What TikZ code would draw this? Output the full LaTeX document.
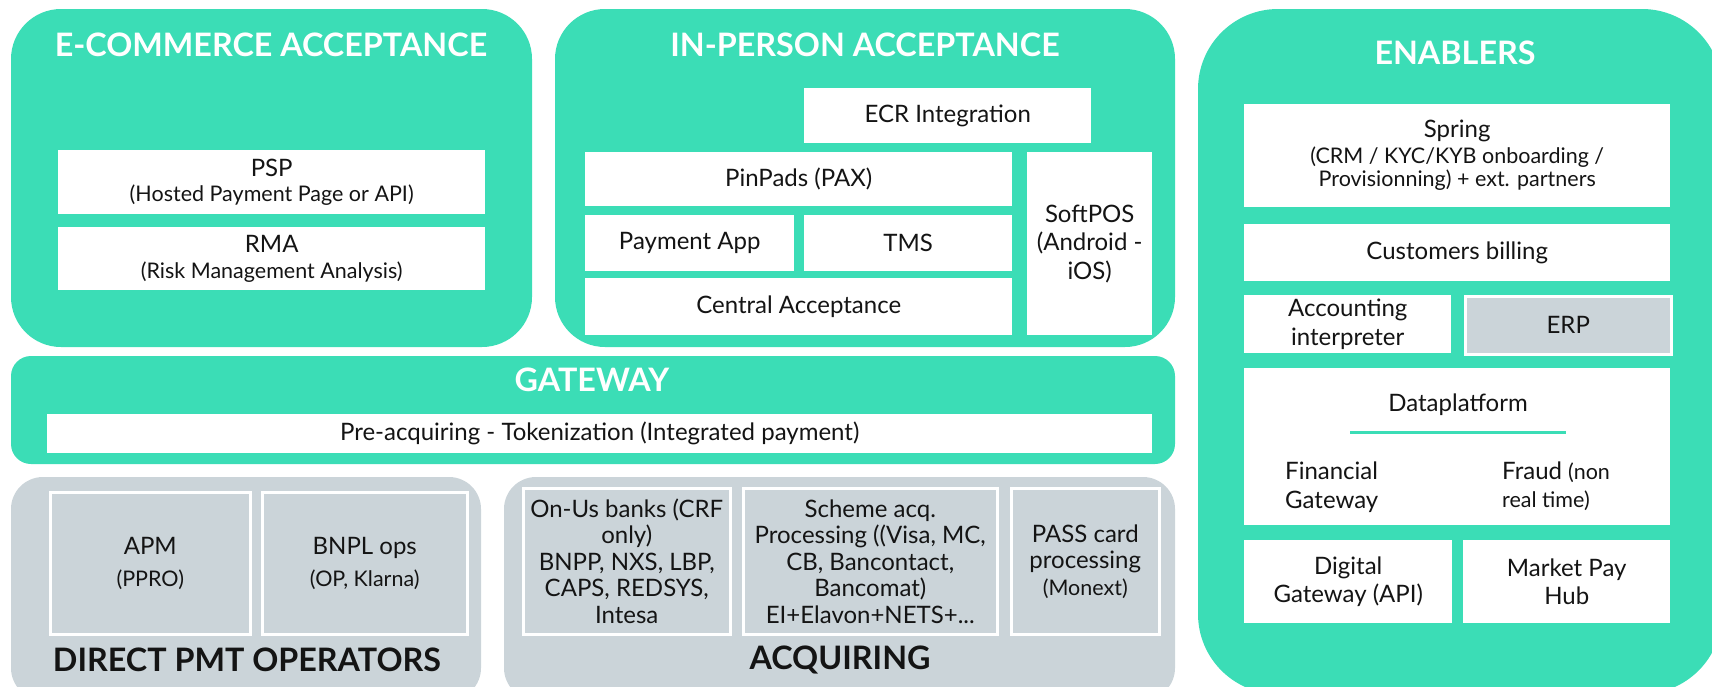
\documentclass[tikz,border=0pt]{standalone}
\usepackage{fontspec}
\setmainfont{Lato}
\definecolor{teal}{RGB}{59,221,182}
\definecolor{pgrey}{RGB}{203,212,217}
\definecolor{ink}{RGB}{20,20,20}
\newcommand\fmain{\fontsize{24}{28.5}\selectfont}
\newcommand\facq{\fontsize{24}{26.5}\selectfont}
\newcommand\fsub{\fontsize{21.5}{25}\selectfont}
\newcommand\ftitle{\fontsize{32.3}{38}\selectfont\bfseries}
\begin{document}
\begin{tikzpicture}[x=1pt,y=-1pt,
  panel/.style={fill=teal,draw=none,rounded corners=50pt},
  gpanel/.style={fill=pgrey,draw=none,rounded corners=32pt},
  wbox/.style={fill=white,draw=none,anchor=north west,inner sep=0pt,align=center,text=ink,font=\fmain},
  gbox/.style={fill=pgrey,draw=white,line width=2.5pt,anchor=north west,inner sep=0pt,align=center,text=ink,font=\fmain},
  wtitle/.style={text=white,font=\ftitle,inner sep=0pt},
  ktitle/.style={text=ink,font=\ftitle,inner sep=0pt},
  free/.style={text=ink,font=\fmain,inner sep=0pt}]
\useasboundingbox (0,0) rectangle (1712,686);
\clip (0,0) rectangle (1712,686);
% panels
\fill[panel] (11,9) rectangle (532,347);
\fill[panel] (555,9) rectangle (1175,347);
\fill[panel,rounded corners=20pt] (11,356) rectangle (1175,464);
\fill[gpanel] (11,477) rectangle (481,700);
\fill[gpanel] (504,477) rectangle (1175,700);
\fill[panel,rounded corners=80pt] (1198,9) rectangle (1722,694);
% titles
\node[wtitle] (tecom) at (271,45) {E-COMMERCE ACCEPTANCE};
\node[wtitle] (tinp) at (865,45) {IN-PERSON ACCEPTANCE};
\node[wtitle] (tgw) at (592,380) {GATEWAY};
\node[wtitle] (tena) at (1455,53) {ENABLERS};
\node[ktitle] (tdir) at (247,660) {DIRECT PMT OPERATORS};
\node[ktitle] (tacq) at (840,660) {ACQUIRING};
% e-commerce
\node[wbox,minimum width=427pt,minimum height=64pt] (psp) at (58,150) {PSP\\[-3pt]{\fsub (Hosted Payment Page or API)}};
\node[wbox,minimum width=427pt,minimum height=63pt] (rma) at (58,227) {RMA\\[-3pt]{\fsub (Risk Management Analysis)}};
% in-person
\node[wbox,minimum width=287pt,minimum height=55pt] (ecr) at (804,88) {ECR Integration};
\node[wbox,minimum width=427pt,minimum height=54pt] (pin) at (585,152) {PinPads (PAX)};
\node[wbox,minimum width=209pt,minimum height=56pt] (papp) at (585,215) {Payment App};
\node[wbox,minimum width=208pt,minimum height=56pt] (tms) at (804,215) {TMS};
\node[wbox,minimum width=427pt,minimum height=57pt] (central) at (585,278) {Central Acceptance};
\node[wbox,minimum width=125pt,minimum height=183pt] (softpos) at (1027,152) {SoftPOS\\(Android -\\iOS)};
% gateway
\node[wbox,minimum width=1105pt,minimum height=39pt] (preacq) at (47,414) {Pre-acquiring - Tokenization (Integrated payment)};
% direct pmt operators
\node[gbox,minimum width=200pt,minimum height=142pt] (apm) at (49,491) {APM\\[3pt]{\fsub (PPRO)}};
\node[gbox,minimum width=205pt,minimum height=142pt] (bnpl) at (261,491) {BNPL ops\\[3pt]{\fsub (OP, Klarna)}};
% acquiring
\node[gbox,font=\facq,minimum width=207pt,minimum height=146pt] (onus) at (522,487) {On-Us banks (CRF\\only)\\BNPP, NXS, LBP,\\CAPS, REDSYS,\\Intesa};
\node[gbox,font=\facq,minimum width=254pt,minimum height=146pt] (scheme) at (742,487) {Scheme acq.\\Processing ((Visa, MC,\\CB, Bancontact,\\Bancomat)\\EI+Elavon+NETS+...};
\node[gbox,font=\facq,minimum width=148pt,minimum height=146pt] (pass) at (1010,487) {PASS card\\processing\\{\fsub (Monext)}};
% enablers
\node[wbox,minimum width=426pt,minimum height=103pt] (spring) at (1244,104) {Spring\\[-3pt]{\fsub (CRM / KYC/KYB onboarding /}\\[-5pt]{\fsub Provisionning) + ext. partners}};
\node[wbox,minimum width=426pt,minimum height=57pt] (billing) at (1244,224) {Customers billing};
\node[wbox,minimum width=207pt,minimum height=58pt] (acct) at (1244,295) {Accounting\\interpreter};
\node[gbox,minimum width=206pt,minimum height=58pt] (erp) at (1464,295) {ERP};
\node[wbox,minimum width=426pt,minimum height=157pt] (data) at (1244,368) {};
\node[free] (datat) at (1458,405) {Dataplatform};
\coordinate (dl1) at (1350,432);
\coordinate (dl2) at (1566,432);
\draw[teal,line width=3pt] (dl1) -- (dl2);
\node[free,align=left,anchor=west] (fin) at (1285,487) {Financial\\Gateway};
\node[free,align=left,anchor=west] (fraud) at (1502,486) {Fraud {\fsub (non}\\{\fsub real time)}};
\node[wbox,minimum width=208pt,minimum height=83pt] (digi) at (1244,540) {Digital\\Gateway (API)};
\node[wbox,minimum width=207pt,minimum height=83pt] (mph) at (1463,540) {Market Pay\\Hub};
\end{tikzpicture}
\end{document}
